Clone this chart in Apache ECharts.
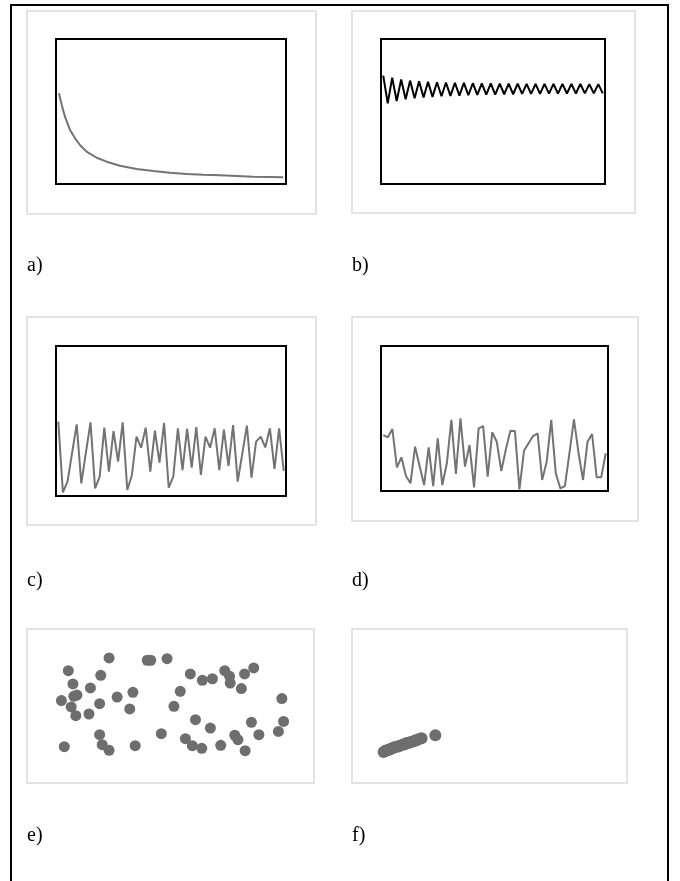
<!DOCTYPE html>
<html>
<head>
<meta charset="utf-8">
<script src="https://cdn.jsdelivr.net/npm/echarts@6/dist/echarts.min.js"></script>
<style>
  html, body { margin: 0; padding: 0; background: #fff; }
  #chart { width: 680px; height: 881px; }
</style>
</head>
<body>
<div id="chart"></div>
<script>
// a) decaying curve (x, y in % of plot)
const aX = [1.3, 2.5, 3.9, 6.1, 8.3, 10.4, 13.3, 17.7, 22, 27.8, 35.1, 42.3, 49.6, 56.8, 64, 71.3, 78.6, 85.8, 93, 98.8];
const aY = [62.6, 54.5, 46.4, 37.2, 31.5, 26.9, 22.3, 18.1, 15.4, 12.6, 10.3, 9, 7.8, 6.9, 6.4, 6, 5.5, 5, 4.8, 4.6];

// b) damped oscillation, 50 steps
const bY = [
  74.7, 55.7, 73.3, 57.2, 72.1, 58.4, 71.3, 59.1, 70.8, 59.7,
  70.5, 60.1, 70.2, 60.5, 70.0, 60.8, 69.8, 61.0, 69.7, 61.2,
  69.5, 61.4, 69.4, 61.6, 69.4, 61.7, 69.3, 61.9, 69.2, 61.9,
  69.2, 62.1, 69.1, 62.1, 69.1, 62.2, 69.0, 62.3, 69.0, 62.3,
  69.0, 62.4, 69.0, 62.4, 69.0, 62.5, 68.9, 62.5, 68.9, 62.5
];

// c) noisy series, 50 steps
const cY = [
  49.6, 2.4, 9.6, 28.7, 47.8, 8.4, 28.9, 49.1, 5.1, 12.9,
  45.6, 16.2, 43.3, 22.9, 49.1, 4.0, 14.0, 39.6, 32.2, 45.6,
  16.2, 43.6, 22.2, 48.7, 5.6, 12.9, 45.1, 17.3, 44.7, 18.9,
  46.0, 14.0, 39.6, 32.2, 45.1, 17.3, 44.2, 20.0, 47.3, 9.6,
  28.2, 46.9, 12.2, 36.2, 39.6, 32.4, 45.1, 18.0, 45.1, 16.7
];

// d) noisy series, 50 steps
const dY = [
  38.6, 37.0, 42.8, 16.3, 23.2, 10.3, 5.3, 30.6, 17.2, 4.1,
  30.1, 3.4, 36.3, 4.1, 19.1, 49.0, 11.7, 50.1, 16.8, 31.7,
  2.5, 43.2, 44.8, 9.9, 40.5, 34.0, 13.8, 28.7, 41.6, 41.4,
  1.1, 27.8, 32.9, 37.9, 39.8, 7.6, 20.2, 49.0, 12.2, 1.8,
  3.4, 26.0, 49.4, 26.4, 7.6, 34.0, 39.3, 9.4, 9.4, 26.0
];

// e) scattered points
const eX = [28.6, 41.9, 43.1, 48.8, 14.4, 25.7, 56.9, 61.1, 64.6, 68.9, 70.6, 70.8, 75.8, 79.0,
  16.0, 22.1, 17.4, 16.3, 12.0, 25.3, 31.4, 36.9, 35.8, 53.4, 51.2, 74.7, 88.8,
  15.4, 17.0, 21.6, 58.7, 63.9, 78.2, 89.4, 87.6, 80.8,
  25.3, 46.8, 72.4, 73.5, 13.0, 26.2, 28.6, 37.7, 55.2, 57.6, 60.9, 67.5, 76.0];
const eY = [81.2, 79.7, 79.7, 80.7, 72.9, 69.9, 70.8, 66.7, 67.7, 72.9, 69.3, 64.9, 70.8, 74.7,
  64.3, 61.7, 57.1, 56.3, 53.5, 51.5, 55.8, 58.9, 48.1, 59.5, 49.8, 61.3, 54.8,
  49.4, 43.7, 44.8, 41.1, 35.7, 39.4, 40.0, 33.5, 31.4,
  31.4, 32.0, 31.0, 28.1, 23.6, 24.9, 21.2, 24.2, 28.8, 24.2, 22.5, 24.5, 21.0];

// f) tightly correlated points
const fX = [11.5, 12.0, 12.4, 13.1, 13.8, 14.3, 14.8, 15.6, 16.5, 17.1, 17.7, 18.6, 19.3, 19.9, 20.8, 21.4, 22.3, 22.9, 23.5, 24.4, 25.3, 30.3];
const fY = [20.1, 20.7, 21.1, 21.4, 21.8, 22.4, 22.6, 23.3, 23.5, 24.1, 24.4, 25.0, 25.2, 25.9, 26.1, 26.7, 27.0, 27.6, 27.8, 28.5, 29.0, 31.0];

const steps = Array.from({ length: 50 }, (_, i) => i + 1);

const chart = echarts.init(document.getElementById('chart'), null, { renderer: 'canvas' });

const frame = { show: true, borderColor: '#000', borderWidth: 2, backgroundColor: 'transparent' };
const lightFrame = { show: true, borderColor: '#e3e3e3', borderWidth: 2, backgroundColor: 'transparent' };

// outer boxes and panel labels
const boxes = [
  [27, 11, 289, 203], [352, 11, 283, 202],
  [27, 317, 289, 208], [352, 317, 286, 204]
];
const labels = [['a)', 27, 266], ['b)', 352, 266], ['c)', 27, 581], ['d)', 352, 581], ['e)', 27, 836], ['f)', 352, 836]];

const graphic = [
  {
    type: 'polyline',
    shape: { points: [[11, 900], [11, 5], [668, 5], [668, 900]] },
    style: { stroke: '#000', lineWidth: 2, fill: null }
  }
].concat(boxes.map(b => ({
  type: 'rect',
  shape: { x: b[0], y: b[1], width: b[2], height: b[3] },
  style: { stroke: '#e3e3e3', lineWidth: 2, fill: null }
}))).concat(labels.map(l => ({
  type: 'text',
  x: l[1], y: l[2],
  style: { text: l[0], font: '20px "Liberation Serif", "DejaVu Serif", serif', fill: '#000', verticalAlign: 'middle' }
})));

const hidden = { show: false };

const option = {
  animation: false,
  backgroundColor: '#fff',
  graphic: graphic,
  grid: [
    Object.assign({ left: 56, top: 39, width: 230, height: 145 }, frame),
    Object.assign({ left: 381, top: 39, width: 224, height: 145 }, frame),
    Object.assign({ left: 56, top: 346, width: 230, height: 150 }, frame),
    Object.assign({ left: 381, top: 346, width: 227, height: 145 }, frame),
    Object.assign({ left: 27, top: 629, width: 287, height: 154 }, lightFrame),
    Object.assign({ left: 352, top: 629, width: 275, height: 154 }, lightFrame)
  ],
  xAxis: [
    { type: 'value', gridIndex: 0, min: 0, max: 100, ...hidden },
    { type: 'category', gridIndex: 1, data: steps, boundaryGap: true, ...hidden },
    { type: 'category', gridIndex: 2, data: steps, boundaryGap: true, ...hidden },
    { type: 'category', gridIndex: 3, data: steps, boundaryGap: true, ...hidden },
    { type: 'value', gridIndex: 4, min: 0, max: 100, ...hidden },
    { type: 'value', gridIndex: 5, min: 0, max: 100, ...hidden }
  ],
  yAxis: [0, 1, 2, 3, 4, 5].map(i => ({ type: 'value', gridIndex: i, min: 0, max: 100, ...hidden })),
  series: [
    {
      type: 'line', xAxisIndex: 0, yAxisIndex: 0, showSymbol: false,
      data: aX.map((x, i) => [x, aY[i]]),
      lineStyle: { color: '#737373', width: 2 }
    },
    {
      type: 'line', xAxisIndex: 1, yAxisIndex: 1, showSymbol: false,
      data: bY,
      lineStyle: { color: '#000', width: 2 }
    },
    {
      type: 'line', xAxisIndex: 2, yAxisIndex: 2, showSymbol: false,
      data: cY,
      lineStyle: { color: '#737373', width: 2 }
    },
    {
      type: 'line', xAxisIndex: 3, yAxisIndex: 3, showSymbol: false,
      data: dY,
      lineStyle: { color: '#737373', width: 2 }
    },
    {
      type: 'scatter', xAxisIndex: 4, yAxisIndex: 4, symbolSize: 11,
      data: eX.map((x, i) => [x, eY[i]]),
      itemStyle: { color: '#6e6e6e', opacity: 1 }
    },
    {
      type: 'scatter', xAxisIndex: 5, yAxisIndex: 5, symbolSize: 12,
      data: fX.map((x, i) => [x, fY[i]]),
      itemStyle: { color: '#6e6e6e', opacity: 1 }
    }
  ]
};

chart.setOption(option);
</script>
</body>
</html>
